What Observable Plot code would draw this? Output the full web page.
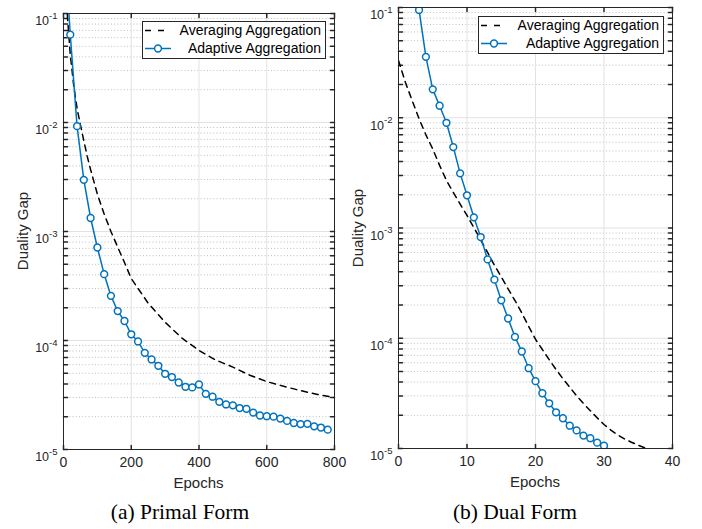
<!DOCTYPE html>
<html>
<head>
<meta charset="utf-8">
<script src="https://cdn.jsdelivr.net/npm/d3@7"></script>
<script src="https://cdn.jsdelivr.net/npm/@observablehq/plot@0.6"></script>
<style>
  body { margin: 0; background: #fff; }
  #wrap { position: relative; width: 702px; height: 529px; overflow: hidden; background: #fff;
          font-family: "Liberation Sans", Arial, Helvetica, sans-serif; }
  .panel { position: absolute; top: 0; }
  .legend { position: absolute; }
  .caption { position: absolute; width: 240px; text-align: center; font-family: "Liberation Serif", "Times New Roman", serif;
             font-size: 21.5px; line-height: 22px; color: #000; white-space: nowrap; }
  .axlabel { position: absolute; font-family: "Liberation Sans", Arial, Helvetica, sans-serif; font-size: 15px;
             line-height: 15px; color: #262626; white-space: nowrap; transform: translate(-50%, -50%); }
  .axlabel.rot { transform: translate(-50%, -50%) rotate(-90deg); }
</style>
</head>
<body>
<div id="wrap"></div>
<script>
// ---------------- data ----------------
const yTicks = [1e-5, 1e-4, 1e-3, 1e-2, 1e-1];
const primalXTicks = [0, 200, 400, 600, 800];
const dualXTicks = [0, 10, 20, 30, 40];

// (a) Primal form
const primalAvgEpochs = [0, 5, 10, 20, 30, 40, 50, 60, 70, 80, 100, 120, 140, 160, 180, 200, 250, 300, 350, 400, 450, 500, 550, 600, 650, 700, 750, 800];
const primalAvgGap = [1.0, 0.3, 0.11, 0.042, 0.022, 0.0135, 0.0095, 0.0068, 0.0049, 0.0037, 0.0022, 0.00145, 0.001, 0.00072, 0.00052, 0.00037, 0.00022, 0.000147, 0.000105, 0.000081, 0.000066, 0.000057, 0.000048, 0.000042, 0.000038, 0.0000347, 0.000032, 0.00003];
const primalAdaEpochs = [0, 20, 40, 60, 80, 100, 120, 140, 160, 180, 200, 220, 240, 260, 280, 300, 320, 340, 360, 380, 400, 420, 440, 460, 480, 500, 520, 540, 560, 580, 600, 620, 640, 660, 680, 700, 720, 740, 760, 780];
const primalAdaGap = [0.6, 0.064, 0.00926, 0.00298, 0.00133, 0.000713, 0.000406, 0.000257, 0.000186, 0.000151, 0.000114, 0.000098, 0.000077, 0.000067, 0.0000586, 0.0000495, 0.0000462, 0.0000412, 0.0000376, 0.0000371, 0.0000395, 0.0000324, 0.0000305, 0.0000274, 0.0000259, 0.0000254, 0.000024, 0.0000236, 0.0000218, 0.0000205, 0.0000202, 0.00002, 0.0000192, 0.0000183, 0.0000175, 0.0000171, 0.0000172, 0.0000163, 0.0000159, 0.0000152];

// (b) Dual form
const dualAvgEpochs = [0, 1, 2, 3, 4, 5, 6, 7, 8, 9, 10, 11, 12, 13, 14, 15, 16, 17, 18, 19, 20, 21, 22, 23, 24, 25, 26, 27, 28, 29, 30, 31, 32, 33, 34, 35, 36, 37];
const dualAvgGap = [0.033, 0.021, 0.0143, 0.0098, 0.007, 0.0052, 0.0037, 0.0027, 0.0021, 0.00165, 0.0013, 0.00101, 0.00078, 0.0006, 0.00046, 0.00036, 0.00028, 0.00022, 0.00017, 0.000128, 0.000098, 0.000079, 0.000064, 0.000052, 0.000043, 0.000036, 0.00003, 0.0000256, 0.000022, 0.000019, 0.0000165, 0.0000147, 0.0000133, 0.0000122, 0.0000114, 0.0000107, 0.0000101, 0.0000096];
const dualAdaEpochs = [3, 4, 5, 6, 7, 8, 9, 10, 11, 12, 13, 14, 15, 16, 17, 18, 19, 20, 21, 22, 23, 24, 25, 26, 27, 28, 29, 30];
const dualAdaGap = [0.095, 0.0357, 0.0181, 0.01286, 0.009, 0.00542, 0.00313, 0.00198, 0.00125, 0.000828, 0.000519, 0.00034, 0.000221, 0.000151, 0.000103, 0.0000758, 0.0000535, 0.0000408, 0.0000317, 0.0000257, 0.0000213, 0.0000188, 0.0000161, 0.0000146, 0.0000131, 0.0000124, 0.0000113, 0.0000106];

const seriesNames = ["Averaging Aggregation", "Adaptive Aggregation"];
const captions = ["(a) Primal Form", "(b) Dual Form"];
const xLabel = "Epochs";
const yLabel = "Duality Gap";

// ---------------- styling ----------------
const BLUE = "#0072BD";
const AXIS = "#262626";
const FONT = '"Liberation Sans", Arial, Helvetica, sans-serif';

const minorTicks = [];
for (const d of yTicks.slice(0, -1)) for (let m = 2; m <= 9; m++) minorTicks.push(d * m);
const allY = yTicks.concat(minorTicks);

const tickShape = { draw(ctx, l) { ctx.moveTo(0, 0); ctx.lineTo(0, -l); } };

function panel(cfg) {
  const avg = cfg.avgX.map((x, i) => ({x, y: cfg.avgY[i]}));
  const ada = cfg.adaX.map((x, i) => ({x, y: cfg.adaY[i]}));
  const svg = Plot.plot({
    width: cfg.width, height: 500,
    marginLeft: cfg.ml, marginRight: cfg.mr, marginTop: cfg.mt, marginBottom: cfg.mb,
    style: { fontFamily: FONT, fontSize: "14px", color: AXIS, background: "white", overflow: "visible" },
    x: { domain: cfg.xDomain },
    y: { type: "log", domain: [yTicks[0], yTicks[yTicks.length - 1]] },
    marks: [
      Plot.ruleY(minorTicks, { stroke: "#bdbdbd", strokeDasharray: "1,2.2" }),
      Plot.gridX(cfg.xTicks, { stroke: "#e2e2e2", strokeOpacity: 1 }),
      Plot.gridY(yTicks, { stroke: "#e2e2e2", strokeOpacity: 1 }),
      Plot.axisX(cfg.xTicks, { tickSize: 0, tickPadding: 8, fontSize: 14, label: null }),
      Plot.axisY(yTicks, { tickSize: 0, tickPadding: 6, fontSize: 12.5, tickFormat: d => "10^" + Math.round(Math.log10(d)), label: null }),
      Plot.vector(allY, { y: d => d, frameAnchor: "left", rotate: 90, length: 4, anchor: "start", shape: tickShape, stroke: AXIS }),
      Plot.vector(allY, { y: d => d, frameAnchor: "right", rotate: -90, length: 4, anchor: "start", shape: tickShape, stroke: AXIS }),
      Plot.vector(cfg.xTicks, { x: d => d, frameAnchor: "bottom", rotate: 0, length: 4, anchor: "start", shape: tickShape, stroke: AXIS }),
      Plot.vector(cfg.xTicks, { x: d => d, frameAnchor: "top", rotate: 180, length: 4, anchor: "start", shape: tickShape, stroke: AXIS }),
      Plot.line(avg, { x: "x", y: "y", stroke: "black", strokeWidth: 1.5, strokeDasharray: "6,5", clip: true }),
      Plot.line(ada, { x: "x", y: "y", stroke: BLUE, strokeWidth: 1.5, clip: true }),
      Plot.dot(ada, { x: "x", y: "y", r: 3.4, stroke: BLUE, strokeWidth: 1.5, fill: "white", clip: true }),
      Plot.frame({ stroke: AXIS, strokeWidth: 1 })
    ]
  });
  const s = d3.select(svg);
  // superscript exponents on the y tick labels
  s.selectAll('g[aria-label="y-axis tick label"] text').each(function () {
    const m = this.textContent.match(/^10\^(-?\d+)$/);
    if (!m) return;
    const t = d3.select(this);
    t.attr("font-size", 12.5).text("10").attr("dy", "0.62em");
    t.append("tspan").attr("dy", "-6.5").attr("font-size", "9.5px").text(m[1]);
  });
  const d = document.createElement("div");
  d.className = "panel";
  d.style.left = cfg.left + "px";
  d.style.width = cfg.width + "px";
  d.appendChild(svg);

  // axis titles, centred on the plot frame
  const fx = cfg.left + cfg.ml, fw = cfg.width - cfg.ml - cfg.mr;
  const fy = cfg.mt, fh = 500 - cfg.mt - cfg.mb;
  const xl = document.createElement("div");
  xl.className = "axlabel";
  xl.style.left = (fx + fw / 2) + "px";
  xl.style.top = (fy + fh + 33) + "px";
  xl.textContent = xLabel;
  const yl = document.createElement("div");
  yl.className = "axlabel rot";
  yl.style.left = (fx - 41) + "px";
  yl.style.top = (fy + fh / 2) + "px";
  yl.textContent = yLabel;
  return [d, xl, yl];
}

function legend(left, top, w, h) {
  const s = d3.create("svg").attr("width", w).attr("height", h).attr("class", "legend")
    .style("left", left + "px").style("top", top + "px").style("position", "absolute");
  s.append("rect").attr("x", 0.5).attr("y", 0.5).attr("width", w - 1).attr("height", h - 1)
    .attr("fill", "white").attr("stroke", AXIS);
  const r1 = 9.5, r2 = 27.5;
  s.append("line").attr("x1", 3).attr("x2", 23).attr("y1", r1).attr("y2", r1)
    .attr("stroke", "black").attr("stroke-width", 1.5).attr("stroke-dasharray", "6,7");
  s.append("line").attr("x1", 3).attr("x2", 29).attr("y1", r2).attr("y2", r2)
    .attr("stroke", BLUE).attr("stroke-width", 1.5);
  s.append("circle").attr("cx", 16).attr("cy", r2).attr("r", 3.4).attr("fill", "white")
    .attr("stroke", BLUE).attr("stroke-width", 1.5);
  const tx = w - 5;
  [r1, r2].forEach((y, i) => {
    s.append("text").attr("x", tx).attr("y", y).attr("dy", "0.35em").attr("text-anchor", "end")
      .attr("font-family", FONT).attr("font-size", 14)
      .attr("fill", "#000").text(seriesNames[i]);
  });
  return s.node();
}

function caption(text, center, top) {
  const c = document.createElement("div");
  c.className = "caption";
  c.style.left = (center - 120) + "px";
  c.style.top = top + "px";
  c.textContent = text;
  return c;
}

const wrap = document.getElementById("wrap");
panel({ left: 0, width: 350, ml: 63, mr: 16, mt: 13, mb: 51, xDomain: [primalXTicks[0], primalXTicks[4]], xTicks: primalXTicks,
  avgX: primalAvgEpochs, avgY: primalAvgGap, adaX: primalAdaEpochs, adaY: primalAdaGap }).forEach(n => wrap.appendChild(n));
panel({ left: 350, width: 352, ml: 48, mr: 30, mt: 7, mb: 52, xDomain: [dualXTicks[0], dualXTicks[4]], xTicks: dualXTicks,
  avgX: dualAvgEpochs, avgY: dualAvgGap, adaX: dualAdaEpochs, adaY: dualAdaGap }).forEach(n => wrap.appendChild(n));
wrap.appendChild(legend(142, 21, 184, 38));
wrap.appendChild(legend(478, 16, 186, 38));
wrap.appendChild(caption(captions[0], 180, 501));
wrap.appendChild(caption(captions[1], 515, 501));
</script>
</body>
</html>
